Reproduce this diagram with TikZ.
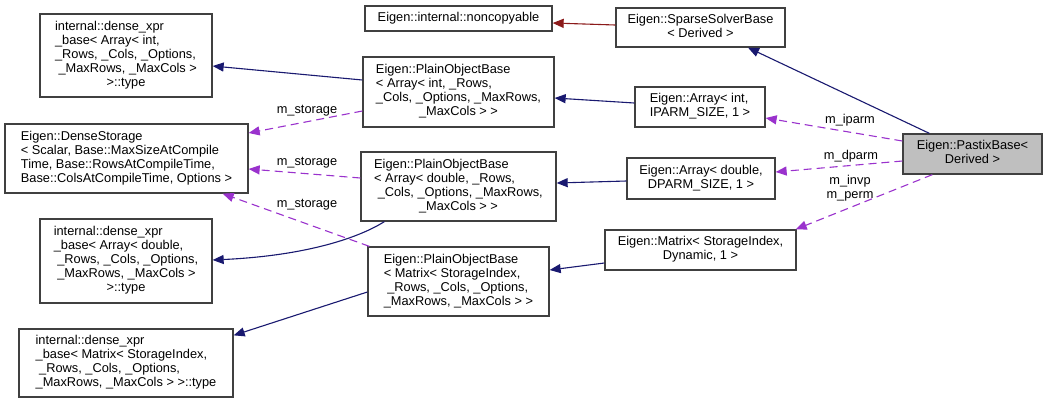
\documentclass[tikz,border=0pt]{standalone}
\usepackage{fontspec}
\setmainfont{Liberation Sans}
\usetikzlibrary{arrows.meta}
\definecolor{navyE}{HTML}{191970}
\definecolor{redE}{HTML}{8B1A1A}
\definecolor{purpE}{HTML}{9A32CD}
\definecolor{boxB}{HTML}{404040}
\definecolor{grayF}{HTML}{BFBFBF}
\newcommand{\lastln}[1]{\multicolumn{1}{@{}c@{}}{#1}}
\newcommand{\tb}[1]{\begin{tabular}{@{}l@{}}#1\end{tabular}}
\begin{document}
\begin{tikzpicture}[x=1pt,y=-1pt,
  txt/.style={font=\fontsize{12.8pt}{14pt}\selectfont},
  box/.style={txt, draw=boxB, line width=1.3pt, fill=white, inner sep=0pt, align=center},
  inh/.style={draw=navyE, line width=1.1pt, -{Triangle[length=11pt,width=9pt]}},
  inhr/.style={draw=redE, line width=1.1pt, -{Triangle[length=11pt,width=9pt]}},
  use/.style={draw=purpE, line width=1.1pt, dash pattern=on 8pt off 5pt, -{Triangle[length=11pt,width=9pt]}},
  lab/.style={txt, inner sep=0pt, align=center}
]
\fill[white] (0,0) rectangle (1047,405);
\useasboundingbox (0,0) rectangle (1047,405);

% nodes
\node[box, minimum width=172pt, minimum height=83pt] (dxAi) at (126,55.5)
  {\tb{internal::dense\_xpr\\\_base< Array< int,\\\_Rows, \_Cols, \_Options,\\\ \_MaxRows, \_MaxCols >\\\lastln{>::type}}};
\node[box, minimum width=243pt, minimum height=69pt] (ds) at (126.5,158.5)
  {\tb{Eigen::DenseStorage\\< Scalar, Base::MaxSizeAtCompile\\Time, Base::RowsAtCompileTime,\\\lastln{Base::ColsAtCompileTime, Options >}}};
\node[box, minimum width=172pt, minimum height=84pt] (dxAd) at (126,261)
  {\tb{internal::dense\_xpr\\\_base< Array< double,\\\ \_Rows, \_Cols, \_Options,\\\ \_MaxRows, \_MaxCols >\\\lastln{>::type}}};
\node[box, minimum width=214pt, minimum height=68pt] (dxM) at (126,363)
  {\tb{internal::dense\_xpr\\\_base< Matrix< StorageIndex,\\\ \_Rows, \_Cols, \_Options,\\\lastln{\_MaxRows, \_MaxCols > >::type}}};
\node[box, minimum width=187pt, minimum height=25pt] (nc) at (458.5,18.5)
  {Eigen::internal::noncopyable};
\node[box, minimum width=169pt, minimum height=39pt] (ssb) at (700.5,27.5)
  {\tb{Eigen::SparseSolverBase\\\lastln{< Derived >}}};
\node[box, minimum width=191pt, minimum height=70pt] (pai) at (458.5,92)
  {\tb{Eigen::PlainObjectBase\\< Array< int, \_Rows,\\\_Cols, \_Options, \_MaxRows,\\\lastln{\_MaxCols > >}}};
\node[box, minimum width=130pt, minimum height=40pt] (ai) at (700,107)
  {\tb{Eigen::Array< int,\\\lastln{IPARM\_SIZE, 1 >}}};
\node[box, minimum width=195pt, minimum height=69pt] (pad) at (458.5,186.5)
  {\tb{Eigen::PlainObjectBase\\< Array< double, \_Rows,\\\ \_Cols, \_Options, \_MaxRows,\\\lastln{\_MaxCols > >}}};
\node[box, minimum width=148pt, minimum height=41pt] (ad) at (701,178.5)
  {\tb{Eigen::Array< double,\\\lastln{DPARM\_SIZE, 1 >}}};
\node[box, minimum width=181pt, minimum height=69pt] (pm) at (458.5,281.5)
  {\tb{Eigen::PlainObjectBase\\< Matrix< StorageIndex,\\\ \_Rows, \_Cols, \_Options,\\\lastln{\_MaxRows, \_MaxCols > >}}};
\node[box, minimum width=191pt, minimum height=40pt] (mx) at (700.5,250)
  {\tb{Eigen::Matrix< StorageIndex,\\\lastln{Dynamic, 1 >}}};
\node[box, fill=grayF, minimum width=139pt, minimum height=40pt] (px) at (972.5,154)
  {\tb{Eigen::PastixBase<\\\lastln{Derived >}}};

% inheritance edges
\draw[inhr] ([yshift=2.5pt]ssb.west) -- ([yshift=-4.5pt]nc.east);
\draw[inh] ([xshift=27pt]px.north west) -- ([xshift=47.5pt]ssb.south);
\draw[inh] ([yshift=4pt]ai.west) -- ([yshift=-6pt]pai.east);
\draw[inh] ([yshift=12pt]pai.west) -- ([yshift=-10.5pt]dxAi.east);
\draw[inh] ([yshift=-2.5pt]ad.west) -- ([yshift=3.5pt]pad.east);
\draw[inh] ([xshift=24pt]pad.south west) .. controls (355,240) and (300,256) .. ([yshift=1pt]dxAd.east);
\draw[inh] ([yshift=-13pt]mx.west) -- ([yshift=11.5pt]pm.east);
\draw[inh] ([yshift=-10.5pt]pm.west) -- ([yshift=-7pt]dxM.north east);

% usage edges
\draw[use] ([yshift=-19pt]pai.west) -- ([yshift=25.5pt]ds.east);
\draw[use] ([yshift=8.5pt]pad.west) -- ([yshift=-10.5pt]ds.east);
\draw[use] ([xshift=2pt]pm.north west) -- ([xshift=-26pt]ds.south east);
\draw[use] ([yshift=13pt]px.west) -- ([yshift=-11pt]ai.east);
\draw[use] ([yshift=-7pt]px.west) -- ([yshift=6.5pt]ad.east);
\draw[use] ([xshift=30pt]px.south west) -- ([xshift=-1pt]mx.north east);

% labels
\node[lab] (l1) at (307,111) {m\_storage};
\node[lab] (l2) at (307,163) {m\_storage};
\node[lab] (l3) at (307,205) {m\_storage};
\node[lab] (l4) at (850,120) {m\_iparm};
\node[lab] (l5) at (851,156) {m\_dparm};
\node[lab] (l6) at (850,188) {m\_invp\\m\_perm};
\end{tikzpicture}
\end{document}
